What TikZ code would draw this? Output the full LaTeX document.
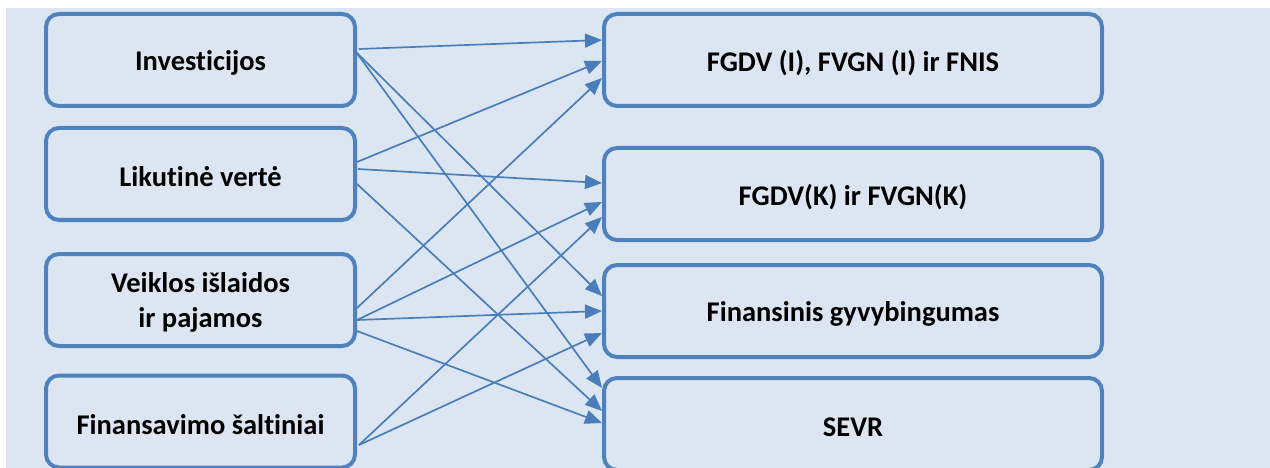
\documentclass[tikz,border=0pt]{standalone}
\usepackage{fontspec}
\setmainfont{Carlito}[Ligatures=NoCommon]
\usetikzlibrary{arrows.meta,calc}
\definecolor{bgblue}{HTML}{DCE6F2}
\definecolor{boxblue}{RGB}{79,129,189}
\definecolor{lineblue}{RGB}{74,126,187}
\newcommand{\lowtext}[1]{\raisebox{-3pt}[\height][\depth]{#1}}
\tikzset{
  srcbox/.style={draw=boxblue, line width=4pt, rounded corners=13pt, minimum width=309pt, minimum height=92pt, inner sep=0pt, outer sep=0pt, align=center, font=\fontsize{28.5}{35}\selectfont\bfseries},
  dstbox/.style={srcbox, minimum width=498pt},
  conn/.style={draw=lineblue, line width=1.7pt, -{Triangle[length=17pt,width=14pt]}}
}
\begin{document}
\begin{tikzpicture}[x=1pt,y=-1pt]
\useasboundingbox (0,0) rectangle (1270,468);
\fill[bgblue] (6,8) rectangle (1270,468);
% left column
\node[srcbox] (I) at (200.5,60) {\lowtext{Investicijos}};
\node[srcbox] (L) at (200.5,174) {\lowtext{Likutinė vertė}};
\node[srcbox] (V) at (200.5,300) {\lowtext{\begin{tabular}{@{}c@{}}Veiklos išlaidos\\ir pajamos\end{tabular}}};
\node[srcbox] (F) at (200.5,421.5) {\lowtext{Finansavimo šaltiniai}};
% right column
\node[dstbox] (R1) at (853,60) {\lowtext{FGDV (I), FVGN (I) ir FNIS}};
\node[dstbox] (R2) at (853,194) {\lowtext{FGDV(K) ir FVGN(K)}};
\node[dstbox] (R3) at (853,311) {\lowtext{Finansinis gyvybingumas}};
\node[dstbox] (R4) at (853,424) {\lowtext{SEVR}};
% connectors
\draw[conn] ($(I.east)+(4,-11)$) -- ($(R1.west)+(-2,-20)$);
\draw[conn] ($(I.east)+(1,-8)$) -- ($(R3.west)+(-2,-15)$);
\draw[conn] ($(I.east)+(1,-8)$) -- ($(R4.west)+(-2,-36)$);
\draw[conn] ($(L.east)+(2,-12)$) -- ($(R1.west)+(-2,1)$);
\draw[conn] ($(L.east)+(3,-5)$) -- ($(R2.west)+(-2,-11)$);
\draw[conn] ($(L.east)+(2,10)$) -- ($(R4.west)+(-2,-13)$);
\draw[conn] ($(V.east)+(2,8)$) -- ($(R1.west)+(-2,18)$);
\draw[conn] ($(V.east)+(2,20)$) -- ($(R2.west)+(-2,8)$);
\draw[conn] ($(V.east)+(2,20)$) -- ($(R3.west)+(-2,0)$);
\draw[conn] ($(V.east)+(2,31)$) -- ($(R4.west)+(-2,-1)$);
\draw[conn] ($(F.east)+(4,23.5)$) -- ($(R2.west)+(-2,23)$);
\draw[conn] ($(F.east)+(4,23.5)$) -- ($(R3.west)+(-2,22)$);
\end{tikzpicture}
\end{document}
